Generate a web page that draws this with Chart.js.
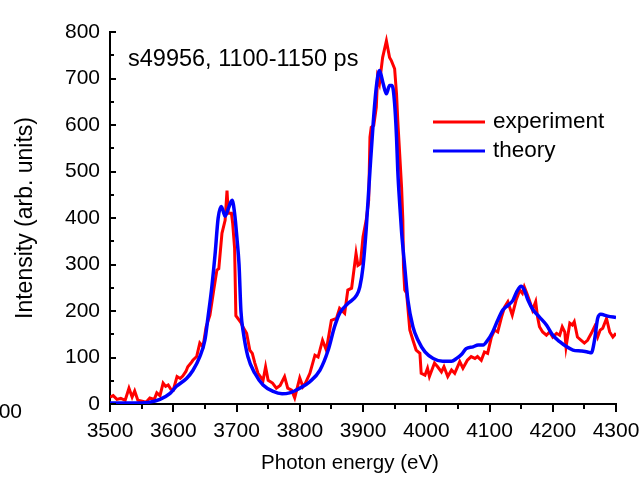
<!DOCTYPE html>
<html>
<head>
<meta charset="utf-8">
<script src="https://cdn.jsdelivr.net/npm/chart.js@4.4.1/dist/chart.umd.min.js"></script>
<style>
html,body{margin:0;padding:0;background:#fff}
</style>
</head>
<body>
<canvas id="c" width="644" height="481"></canvas>
<script>

// measured spectrum (eV, arb. units)
const expE = [3500,3505,3511,3517,3524,3530,3535,3539,3544,3551,3557,3563,3570,3574,3579,3584,3588,3592,3596,3600,
3606,3611,3615,3620,3623,3628,3631,3637,3642,3647,3652,3658,3664,3669,3672,3677,3682,3685,3687,3692,
3694,3697,3699,3707,3710,3716,3721,3725,3729,3734,3742,3746,3750,3757,3763,3769,3776,3781,3787,3792,
3800,3805,3809,3816,3824,3829,3836,3842,3850,3858,3863,3871,3876,3882,3889,3892,3896,3900,3905,3909,
3911,3913,3917,3921,3923,3926,3931,3937,3942,3945,3950,3953,3955,3958,3961,3963,3964,3966,3969,3974,
3979,3984,3990,3992,3998,4002,4005,4013,4018,4024,4028,4034,4040,4045,4053,4058,4065,4071,4077,4081,
4087,4092,4097,4103,4108,4113,4119,4124,4129,4136,4142,4148,4152,4155,4159,4163,4168,4173,4176,4179,
4184,4190,4195,4200,4206,4211,4215,4219,4221,4227,4231,4234,4239,4245,4250,4255,4261,4266,4271,4275,
4279,4285,4290,4295,4300]
const expI = [15,18,10,12,8,34,15,28,8,6,4,13,10,24,18,45,38,41,32,30,
59,55,60,70,80,88,94,102,131,123,166,191,245,288,291,367,395,459,410,410,
388,335,190,175,166,152,116,109,88,66,51,80,51,45,34,40,59,34,30,13,
56,37,45,66,105,101,137,116,180,184,206,195,245,249,324,298,302,359,395,438,
574,595,599,638,702,689,745,781,745,738,721,667,609,538,466,395,295,245,238,159,
137,116,109,66,62,77,59,88,80,69,80,59,73,66,91,77,94,102,98,102,
94,112,109,144,159,155,187,209,220,191,223,245,238,252,238,223,202,220,187,166,
155,148,155,144,152,148,166,155,123,174,170,177,144,137,131,137,152,166,144,159,
163,184,155,144,152]

// calculated spectrum
const thE = [3500,3532,3563,3579,3595,3605,3621,3631,3642,3650,3655,3661,3666,3671,3676,3682,3687,3693,3697,3701,
3704,3707,3711,3718,3729,3742,3758,3772,3784,3800,3816,3832,3845,3855,3863,3876,3890,3895,3900,3905,
3911,3916,3921,3926,3932,3937,3942,3946,3950,3953,3955,3958,3961,3966,3971,3979,3987,3998,4011,4026,
4040,4048,4056,4063,4074,4082,4090,4097,4105,4113,4121,4129,4137,4143,4150,4155,4161,4169,4179,4190,
4200,4211,4221,4232,4245,4255,4261,4266,4271,4276,4287,4300]
const thI = [2,2,4,10,23,38,55,72,102,137,187,252,320,400,425,404,420,438,410,352,
300,200,152,102,66,41,27,22,24,34,48,73,116,166,195,216,234,252,295,375,
502,602,681,717,688,667,685,685,646,574,502,431,370,295,223,166,137,112,98,92,
92,98,107,119,123,127,127,137,155,180,202,212,223,241,253,245,223,202,187,170,
148,134,124,116,114,112,110,137,184,193,189,186]

const xMajor = [3500,3600,3700,3800,3900,4000,4100,4200,4300]
const yMajor = [0,100,200,300,400,500,600,700,800]

const seriesNames = ["experiment","theory"]
const note = "s49956, 1100-1150 ps"
const xTitle = "Photon energy (eV)"

const sans = "'Liberation Sans', Arial, sans-serif"

function toPoints(xs, ys){
  return xs.map((x,i)=>({x:x, y:ys[i]}))
}

// tick marks, legend, note and x title drawn on top of the plot
const decor = {
  id:"decor",
  afterDraw(chart){
    const ctx = chart.ctx
    const xs = chart.scales.x
    const ys = chart.scales.y
    ctx.save()
    ctx.strokeStyle = "#000"
    ctx.lineWidth = 2
    ctx.beginPath()
    for (let v = 3500; v <= 4300; v += 50) {
      const px = Math.round(xs.getPixelForValue(v))
      const len = xMajor.includes(v) ? 8 : 5
      ctx.moveTo(px, ys.bottom)
      ctx.lineTo(px, ys.bottom + len)
    }
    for (let v = 0; v <= 800; v += 50) {
      const py = Math.round(ys.getPixelForValue(v))
      const len = yMajor.includes(v) ? 6 : 4
      ctx.moveTo(xs.left, py)
      ctx.lineTo(xs.left + len, py)
    }
    ctx.stroke()

    // legend
    const items = [
      {name:seriesNames[0], color:"#ff0000", y:122},
      {name:seriesNames[1], color:"#0000ff", y:151}
    ]
    ctx.font = "22.5px " + sans
    ctx.textBaseline = "middle"
    ctx.textAlign = "left"
    items.forEach(it=>{
      ctx.strokeStyle = it.color
      ctx.lineWidth = 3
      ctx.beginPath()
      ctx.moveTo(433, it.y)
      ctx.lineTo(485, it.y)
      ctx.stroke()
      ctx.fillStyle = "#000"
      ctx.fillText(it.name, 493, it.y)
    })

    ctx.font = "23.5px " + sans
    ctx.fillText(note, 128, 60)

    ctx.textAlign = "center"
    ctx.font = "20.5px " + sans
    ctx.fillText(xTitle, 350, 463)

    // stray label at the lower left edge
    ctx.textAlign = "right"
    ctx.font = "21px " + sans
    ctx.fillText("300", 22, 412)
    ctx.restore()
  }
}

new Chart(document.getElementById("c"), {
  type:"line",
  data:{
    datasets:[
      {
        label:seriesNames[1],
        data:toPoints(thE, thI),
        borderColor:"#0000ff",
        borderWidth:3.5,
        pointRadius:0,
        tension:0.4,
        cubicInterpolationMode:"monotone",
        order:1
      },
      {
        label:seriesNames[0],
        data:toPoints(expE, expI),
        borderColor:"#ff0000",
        borderWidth:3,
        pointRadius:0,
        tension:0,
        order:2
      }
    ]
  },
  options:{
    responsive:false,
    animation:false,
    events:[],
    layout:{padding:{top:32, right:28, left:0, bottom:0}},
    plugins:{
      legend:{display:false},
      tooltip:{enabled:false}
    },
    scales:{
      x:{
        type:"linear",
        min:3500,
        max:4300,
        grid:{display:false, drawTicks:false},
        border:{display:true, color:"#000", width:2},
        ticks:{
          stepSize:100,
          color:"#000",
          padding:15,
          maxRotation:0,
          font:{family:sans, size:21},
          callback:v=>String(v)
        },
        afterFit(s){
          s.height = 77
          s.paddingLeft = 0
          s.paddingRight = 0
        }
      },
      y:{
        min:0,
        max:800,
        grid:{display:false, drawTicks:false},
        border:{display:true, color:"#000", width:2},
        ticks:{
          stepSize:100,
          color:"#000",
          padding:10,
          font:{family:sans, size:21},
          callback:v=>String(v)
        },
        title:{
          display:true,
          text:"Intensity (arb. units)",
          color:"#000",
          font:{family:sans, size:23},
          padding:{top:12, bottom:0}
        },
        afterFit(s){ s.width = 110 }
      }
    }
  },
  plugins:[decor]
})
</script>
</body>
</html>
